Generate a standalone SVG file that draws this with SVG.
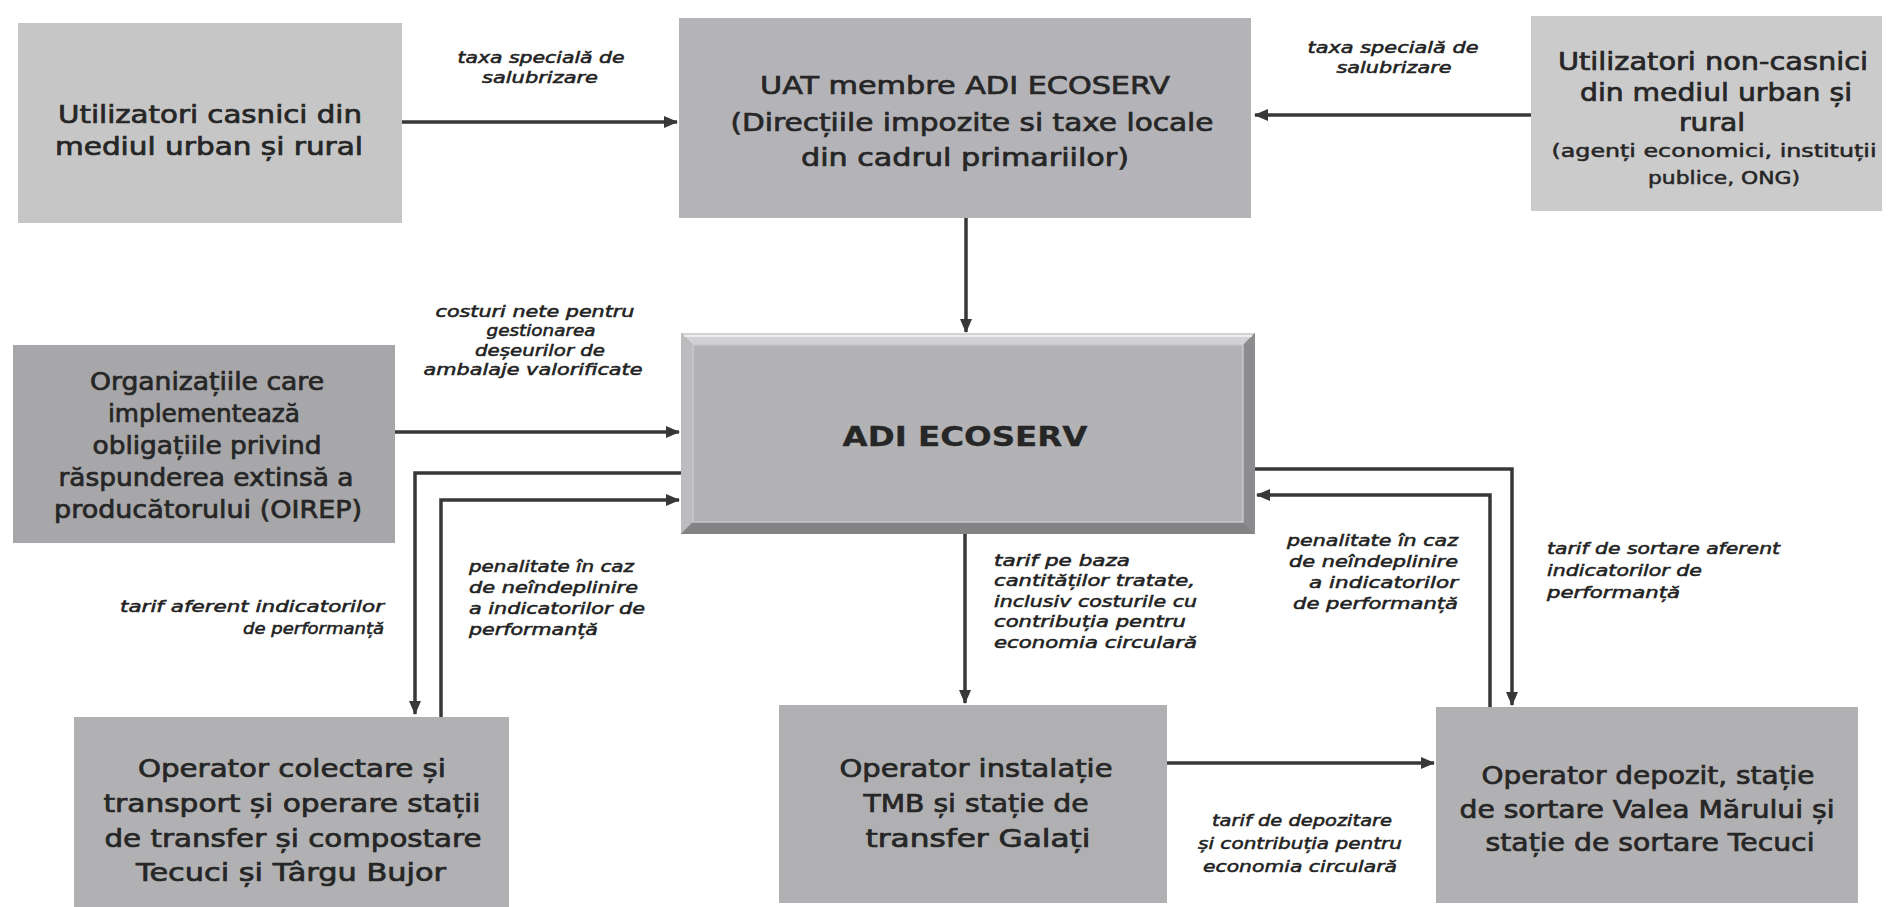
<svg xmlns="http://www.w3.org/2000/svg" width="1897" height="907" viewBox="0 0 1897 907">
<style>
.bx{stroke:none}
.t{font-family:"DejaVu Sans","Liberation Sans",sans-serif;font-size:24px;fill:#262626;stroke:#262626;stroke-width:0.7;text-anchor:middle}
.ts{font-size:17px;stroke-width:0.5}
.b{font-weight:bold;font-size:26px;stroke-width:0.3}
.l{font-family:"DejaVu Sans","Liberation Sans",sans-serif;font-size:15px;font-style:italic;fill:#222;stroke:#222;stroke-width:0.5}
.m{text-anchor:middle}
.e{text-anchor:end}
.c{fill:none;stroke:#383838;stroke-width:3.5}
</style>
<defs>
<marker id="ah" markerUnits="userSpaceOnUse" markerWidth="14" markerHeight="12" refX="13" refY="6" orient="auto">
<path d="M0,0 L14,6 L0,12 z" fill="#383838"/>
</marker>
</defs>
<rect width="1897" height="907" fill="#ffffff"/>

<g id="connectors">
<path class="c" d="M402,122 H677" marker-end="url(#ah)"/>
<path class="c" d="M1531,115 H1255" marker-end="url(#ah)"/>
<path class="c" d="M966,218 V332" marker-end="url(#ah)"/>
<path class="c" d="M395,432 H679" marker-end="url(#ah)"/>
<path class="c" d="M681,473 H415 V714" marker-end="url(#ah)"/>
<path class="c" d="M441,717 V500 H679" marker-end="url(#ah)"/>
<path class="c" d="M965,534 V703" marker-end="url(#ah)"/>
<path class="c" d="M1167,763 H1434" marker-end="url(#ah)"/>
<path class="c" d="M1255,469 H1512 V705" marker-end="url(#ah)"/>
<path class="c" d="M1490,707 V495 H1257" marker-end="url(#ah)"/>
</g>

<g id="labels">
<text class="l m" x="541" y="63" textLength="167" lengthAdjust="spacingAndGlyphs">taxa specială de</text>
<text class="l m" x="540" y="83" textLength="116" lengthAdjust="spacingAndGlyphs">salubrizare</text>
<text class="l m" x="1393" y="53" textLength="171" lengthAdjust="spacingAndGlyphs">taxa specială de</text>
<text class="l m" x="1394" y="73" textLength="115" lengthAdjust="spacingAndGlyphs">salubrizare</text>
<text class="l m" x="535" y="317" textLength="199" lengthAdjust="spacingAndGlyphs">costuri nete pentru</text>
<text class="l m" x="541" y="336" textLength="109" lengthAdjust="spacingAndGlyphs">gestionarea</text>
<text class="l m" x="540" y="356" textLength="130" lengthAdjust="spacingAndGlyphs">deșeurilor de</text>
<text class="l m" x="533" y="375" textLength="219" lengthAdjust="spacingAndGlyphs">ambalaje valorificate</text>
<text class="l e" x="384" y="612" textLength="264" lengthAdjust="spacingAndGlyphs">tarif aferent indicatorilor</text>
<text class="l e" x="384" y="634" textLength="141" lengthAdjust="spacingAndGlyphs">de performanță</text>
<text class="l" x="469" y="572" textLength="165" lengthAdjust="spacingAndGlyphs">penalitate în caz</text>
<text class="l" x="469" y="593" textLength="169" lengthAdjust="spacingAndGlyphs">de neîndeplinire</text>
<text class="l" x="469" y="614" textLength="176" lengthAdjust="spacingAndGlyphs">a indicatorilor de</text>
<text class="l" x="469" y="635" textLength="129" lengthAdjust="spacingAndGlyphs">performanță</text>
<text class="l" x="994" y="566" textLength="136" lengthAdjust="spacingAndGlyphs">tarif pe baza</text>
<text class="l" x="994" y="586" textLength="201" lengthAdjust="spacingAndGlyphs">cantităților tratate,</text>
<text class="l" x="994" y="607" textLength="203" lengthAdjust="spacingAndGlyphs">inclusiv costurile cu</text>
<text class="l" x="994" y="627" textLength="192" lengthAdjust="spacingAndGlyphs">contribuția pentru</text>
<text class="l" x="994" y="648" textLength="203" lengthAdjust="spacingAndGlyphs">economia circulară</text>
<text class="l m" x="1302" y="826" textLength="180" lengthAdjust="spacingAndGlyphs">tarif de depozitare</text>
<text class="l m" x="1300" y="849" textLength="204" lengthAdjust="spacingAndGlyphs">și contribuția pentru</text>
<text class="l m" x="1300" y="872" textLength="194" lengthAdjust="spacingAndGlyphs">economia circulară</text>
<text class="l e" x="1458" y="546" textLength="171" lengthAdjust="spacingAndGlyphs">penalitate în caz</text>
<text class="l e" x="1458" y="567" textLength="169" lengthAdjust="spacingAndGlyphs">de neîndeplinire</text>
<text class="l e" x="1458" y="588" textLength="149" lengthAdjust="spacingAndGlyphs">a indicatorilor</text>
<text class="l e" x="1458" y="609" textLength="165" lengthAdjust="spacingAndGlyphs">de performanță</text>
<text class="l" x="1547" y="554" textLength="233" lengthAdjust="spacingAndGlyphs">tarif de sortare aferent</text>
<text class="l" x="1547" y="576" textLength="155" lengthAdjust="spacingAndGlyphs">indicatorilor de</text>
<text class="l" x="1547" y="598" textLength="133" lengthAdjust="spacingAndGlyphs">performanță</text>
</g>

<g id="casnici">
<rect class="bx" x="18" y="23" width="384" height="200" fill="#c6c6c7"/>
<text class="t" x="210" y="123" textLength="304" lengthAdjust="spacingAndGlyphs">Utilizatori casnici din</text>
<text class="t" x="209" y="155" textLength="308" lengthAdjust="spacingAndGlyphs">mediul urban și rural</text>
</g>

<g id="uat">
<rect class="bx" x="679" y="18" width="572" height="200" fill="#b4b4b8"/>
<text class="t" x="965" y="94" textLength="410" lengthAdjust="spacingAndGlyphs">UAT membre ADI ECOSERV</text>
<text class="t" x="972" y="131" textLength="483" lengthAdjust="spacingAndGlyphs">(Direcțiile impozite si taxe locale</text>
<text class="t" x="965" y="166" textLength="328" lengthAdjust="spacingAndGlyphs">din cadrul primariilor)</text>
</g>

<g id="noncasnici">
<rect class="bx" x="1531" y="16" width="351" height="195" fill="#cbcbcc"/>
<text class="t" x="1713" y="70" textLength="310" lengthAdjust="spacingAndGlyphs">Utilizatori non-casnici</text>
<text class="t" x="1716" y="101" textLength="272" lengthAdjust="spacingAndGlyphs">din mediul urban și</text>
<text class="t" x="1712" y="131" textLength="66" lengthAdjust="spacingAndGlyphs">rural</text>
<text class="t ts" x="1714" y="157" textLength="325" lengthAdjust="spacingAndGlyphs">(agenți economici, instituții</text>
<text class="t ts" x="1724" y="184" textLength="152" lengthAdjust="spacingAndGlyphs">publice, ONG)</text>
</g>

<g id="oirep">
<rect class="bx" x="13" y="345" width="382" height="198" fill="#a7a7a9"/>
<text class="t" x="207" y="390" textLength="234" lengthAdjust="spacingAndGlyphs">Organizațiile care</text>
<text class="t" x="204" y="422" textLength="192" lengthAdjust="spacingAndGlyphs">implementează</text>
<text class="t" x="207" y="454" textLength="229" lengthAdjust="spacingAndGlyphs">obligațiile privind</text>
<text class="t" x="206" y="486" textLength="295" lengthAdjust="spacingAndGlyphs">răspunderea extinsă a</text>
<text class="t" x="208" y="518" textLength="308" lengthAdjust="spacingAndGlyphs">producătorului (OIREP)</text>
</g>

<g id="adi">
<rect x="681" y="333" width="574" height="201" fill="#9a9a9c"/>
<polygon points="681,333 1255,333 1243,345 693,345" fill="#d2d2d4"/>
<polygon points="681,333 693,345 693,522 681,534" fill="#bcbcbe"/>
<polygon points="681,534 693,522 1243,522 1255,534" fill="#838385"/>
<polygon points="1255,333 1255,534 1243,522 1243,345" fill="#8c8c8e"/>
<line x1="684" y1="336" x2="1252" y2="336" stroke="#ececec" stroke-width="2"/>
<rect x="693" y="345" width="550" height="177" fill="#b3b3b6" stroke="#c8c8ca" stroke-width="1.5"/>
<text class="t b" x="965" y="446" textLength="245" lengthAdjust="spacingAndGlyphs">ADI ECOSERV</text>
</g>

<g id="colectare">
<rect class="bx" x="74" y="717" width="435" height="190" fill="#b1b1b3"/>
<text class="t" x="292" y="777" textLength="308" lengthAdjust="spacingAndGlyphs">Operator colectare și</text>
<text class="t" x="292" y="812" textLength="377" lengthAdjust="spacingAndGlyphs">transport și operare stații</text>
<text class="t" x="293" y="847" textLength="377" lengthAdjust="spacingAndGlyphs">de transfer și compostare</text>
<text class="t" x="291" y="881" textLength="310" lengthAdjust="spacingAndGlyphs">Tecuci și Târgu Bujor</text>
</g>

<g id="tmb">
<rect class="bx" x="779" y="705" width="388" height="198" fill="#b0b0b2"/>
<text class="t" x="976" y="777" textLength="273" lengthAdjust="spacingAndGlyphs">Operator instalație</text>
<text class="t" x="976" y="812" textLength="225" lengthAdjust="spacingAndGlyphs">TMB și stație de</text>
<text class="t" x="978" y="847" textLength="225" lengthAdjust="spacingAndGlyphs">transfer Galați</text>
</g>

<g id="depozit">
<rect class="bx" x="1436" y="707" width="422" height="196" fill="#b1b1b3"/>
<text class="t" x="1648" y="784" textLength="333" lengthAdjust="spacingAndGlyphs">Operator depozit, stație</text>
<text class="t" x="1647" y="818" textLength="375" lengthAdjust="spacingAndGlyphs">de sortare Valea Mărului și</text>
<text class="t" x="1650" y="851" textLength="329" lengthAdjust="spacingAndGlyphs">stație de sortare Tecuci</text>
</g>
</svg>
